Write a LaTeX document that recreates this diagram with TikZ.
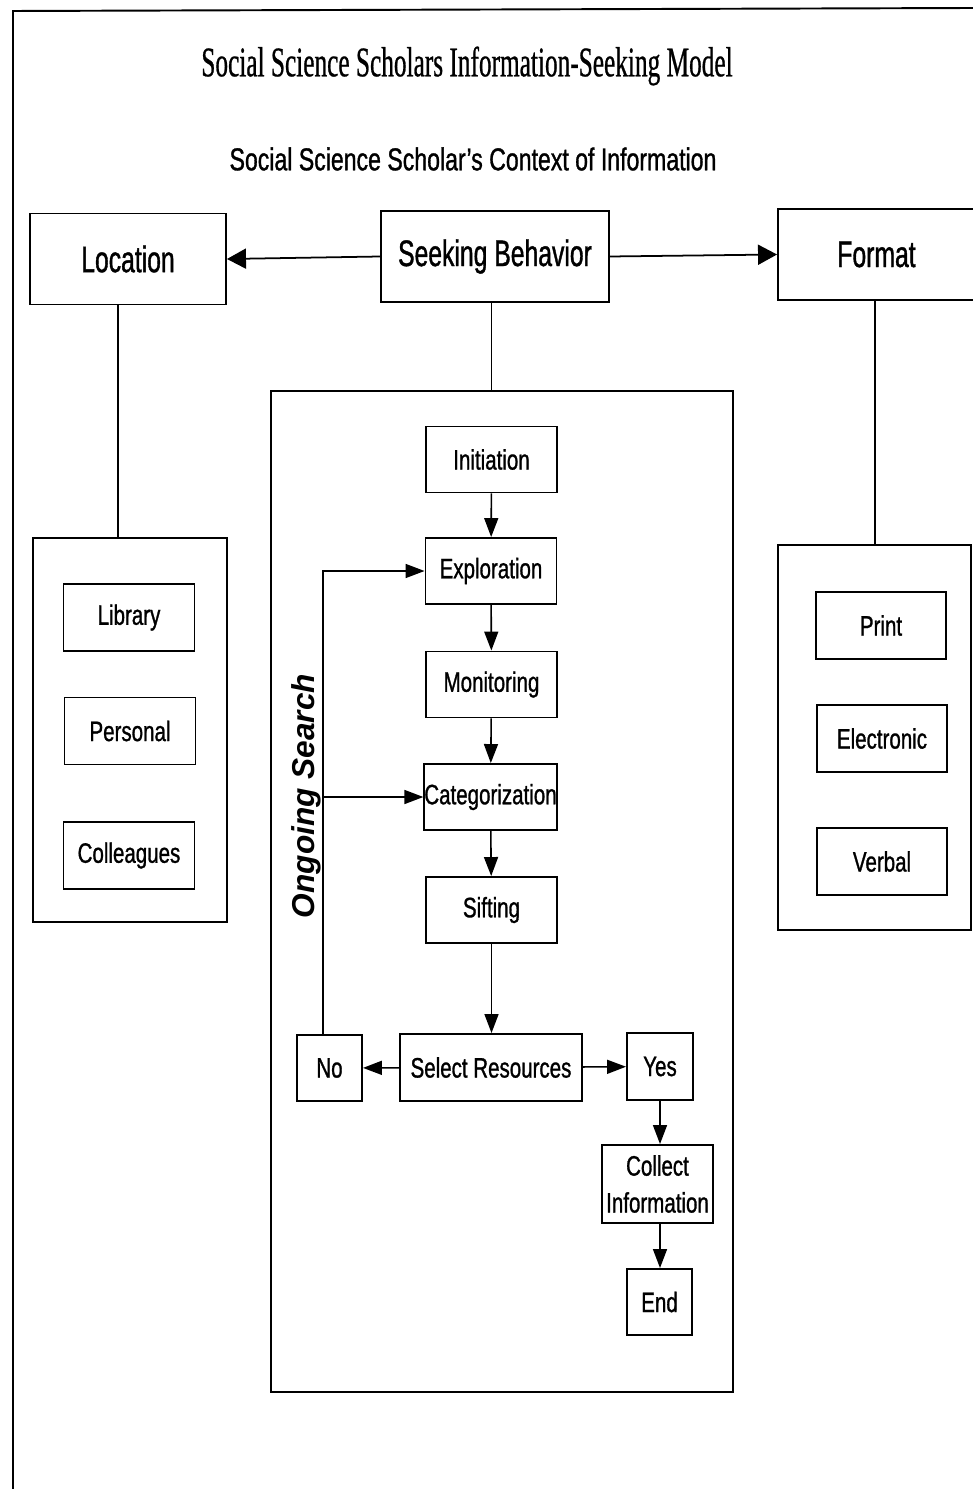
\documentclass[tikz,border=0pt]{standalone}
\usepackage{fontspec}
\setmainfont{Liberation Sans}[FakeStretch=0.73, FakeBold=1]
\newfontfamily\bigfont{Liberation Sans}[FakeStretch=0.67, FakeBold=1]
\newfontfamily\titlefont{Liberation Serif}[FakeStretch=0.6, FakeBold=0.6]
\newfontfamily\slantfont{Liberation Sans}
\usetikzlibrary{arrows.meta}
\tikzset{
  box/.style={draw, line width=1.1pt, inner sep=0pt, align=center, font=\fontsize{16}{21}\selectfont},
  bigbox/.style={box, minimum width=39.2mm, minimum height=18.2mm, font=\bigfont\fontsize{21}{24}\selectfont},
  stepbox/.style={box, minimum width=26.2mm, minimum height=13.2mm},
  itembox/.style={box, minimum width=26.2mm, minimum height=13.4mm},
  flow/.style={line width=0.9pt, -{Triangle[length=3.8mm,width=2.8mm]}},
  bigflow/.style={line width=1pt, -{Triangle[length=3.8mm,width=4mm]}},
}
\begin{document}
\begin{tikzpicture}[x=0.2mm,y=-0.2mm]
\useasboundingbox (0,0) rectangle (973,1489);
\draw[line width=1.1pt] (13,1489)--(13,11)--(973,8);
\node (title) at (467,66) {\titlefont\fontsize{24}{28}\selectfont Social Science Scholars Information-Seeking Model};
\node (context) at (473,159) {\fontsize{18}{22}\selectfont Social Science Scholar's Context of Information};

\node[bigbox] (loc) at (128,259) {Location};
\node[bigbox, minimum width=45.6mm] (seek) at (495,256.5) {Seeking Behavior};
\node[bigbox, minimum width=39.4mm] (fmt) at (876.5,254.5) {Format};

\node[box, minimum width=38.8mm, minimum height=76.8mm] (locgrp) at (130,730) {};
\node[itembox] (library) at (129,617.5) {Library};
\node[itembox] (personal) at (130,731) {Personal};
\node[itembox] (colleagues) at (129,855.5) {Colleagues};

\node[box, minimum width=38.6mm, minimum height=77mm] (fmtgrp) at (874.5,737.5) {};
\node[itembox, minimum width=26mm] (print) at (881,625.5) {Print};
\node[itembox, minimum width=26mm] (electronic) at (882,738.5) {Electronic};
\node[itembox, minimum width=26mm] (verbal) at (882,861.5) {Verbal};

\node[box, minimum width=92.4mm, minimum height=200.2mm] (search) at (502,891.5) {};
\node[stepbox] (init) at (491.5,459.5) {Initiation};
\node[stepbox] (expl) at (491,571) {Exploration};
\node[stepbox] (mon) at (491.5,684.5) {Monitoring};
\node[stepbox] (cat) at (490.5,797) {Categorization};
\node[stepbox] (sift) at (491.5,910) {Sifting};
\node[stepbox, minimum width=36.4mm, minimum height=13.4mm] (sel) at (491,1067.5) {Select Resources};
\node[stepbox, minimum width=13mm] (no) at (329.5,1068) {No};
\node[stepbox, minimum width=13.2mm, minimum height=13.4mm] (yes) at (660,1066.5) {Yes};
\node[stepbox, minimum width=22.2mm, minimum height=15.6mm] (coll) at (657.5,1184) {Collect\\Information};
\node[stepbox, minimum width=13mm] (stop) at (659.5,1302) {End};
\node[rotate=90, font=\slantfont\bfseries\itshape\fontsize{18}{20}\selectfont] (ongoing) at (306,796) {Ongoing Search};

\coordinate (locx) at (118,0);
\coordinate (fmtx) at (875,0);
\coordinate (loopx) at (323,0);

\draw[bigflow] (seek.west) -- (loc.east);
\draw[bigflow] (seek.east) -- (fmt.west);
\draw[line width=1pt] (loc.south -| locx) -- (locgrp.north -| locx);
\draw[line width=1pt] (fmt.south -| fmtx) -- (fmtgrp.north -| fmtx);
\draw[line width=1pt] (seek.south -| init) -- (search.north -| init);

\draw[flow] (init) -- (expl);
\draw[flow] (expl) -- (mon);
\draw[flow] (mon) -- (cat);
\draw[flow] (cat) -- (sift);
\draw[flow] (sift.south) -- (sift.south |- sel.north);
\draw[flow] (sel) -- (no);
\draw[flow] (sel) -- (yes);
\draw[flow] (yes.south) -- (yes.south |- coll.north);
\draw[flow] (coll.south -| yes) -- (stop.north -| yes);
\draw[flow] (no.north -| loopx) |- (expl.west);
\draw[flow] (loopx |- cat.west) -- (cat.west);
\end{tikzpicture}
\end{document}
